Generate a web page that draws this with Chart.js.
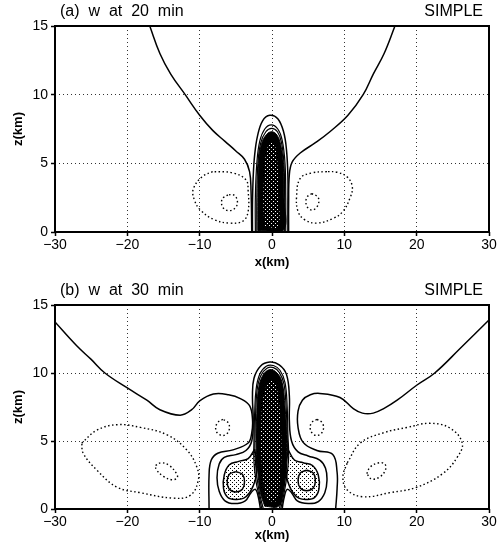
<!DOCTYPE html>
<html lang="en">
<head>
<meta charset="UTF-8">
<title>w at 20 and 30 min</title>
<script src="https://cdn.jsdelivr.net/npm/chart.js"></script>
<style>
  body { margin: 0; background: #fff; }
  canvas { display: block; }
</style>
</head>
<body>
<canvas id="chartA" width="499" height="270"></canvas>
<canvas id="chartB" width="499" height="273"></canvas>

<script>
// axis ticks (km)
const xTicks = [-30, -20, -10, 0, 10, 20, 30];
const zTicks = [0, 5, 10, 15];

// ---- panel (a): w at 20 min, contours as [x km, z km] ----
const aZeroL = [[-16.9,15],[-15.5,13],[-14,11.5],[-12,10],[-10,8.5],[-8.2,7.4],[-6.5,6.6],[-5,5.9],[-3.8,5.3],[-3.1,4.4],[-2.9,3],[-2.8,0]];
const aZeroR = [[17,15],[15.5,13],[14,11.5],[12.6,10],[10.5,8.5],[8,7.3],[6,6.5],[3.9,5.75],[2.8,5.1],[2.4,4.2],[2.3,2],[2.3,0]];
const aNegL  = [[-8.2,4.4],[-9.7,4.0],[-10.9,3.1],[-10.7,2.3],[-9.9,1.6],[-8,0.9],[-5.8,0.65],[-4.0,0.8],[-3.3,1.5],[-3.3,3],[-3.6,3.8],[-5.4,4.3],[-8.2,4.4]];
const aNegLi = [[-6.1,2.7],[-6.9,2.4],[-6.8,1.8],[-5.9,1.55],[-5.0,1.8],[-4.8,2.3],[-5.3,2.7],[-6.1,2.7]];
const aNegR  = [[7.6,4.4],[5.5,4.3],[3.9,3.9],[3.4,2.6],[3.6,1.5],[4.5,0.9],[6.2,0.65],[8.5,1.0],[9.8,1.5],[10.8,2.5],[11.1,3.3],[10.4,4.0],[9,4.35],[7.6,4.4]];
const aNegRi = [[5.5,2.8],[4.8,2.5],[4.8,1.9],[5.5,1.6],[6.3,1.9],[6.4,2.5],[5.5,2.8]];
const aCore1 = [[-2.7,0],[-2.7,2],[-2.6,4],[-2.4,5.6],[-2.0,7.0],[-1.3,8.1],[-0.3,8.5],[0.8,8.25],[1.6,7.3],[2.0,6.0],[2.2,4.0],[2.2,2.0],[2.2,0]];
const aCore2 = [[-2.3,0],[-2.3,2.5],[-2.1,5],[-1.7,6.6],[-1.0,7.5],[-0.1,7.8],[0.8,7.5],[1.4,6.7],[1.8,5],[1.9,2.5],[1.9,0]];
const aCore2b = [[-2.1,0],[-2.1,2.5],[-1.95,5],[-1.55,6.5],[-0.85,7.3],[-0.05,7.55],[0.75,7.3],[1.3,6.55],[1.65,5],[1.75,2.5],[1.75,0]];
const aCore3 = [[-1.95,0.1],[-1.95,2.5],[-1.85,5],[-1.45,6.4],[-0.75,7.1],[0,7.3],[0.7,7.05],[1.2,6.35],[1.55,5],[1.65,2.5],[1.55,0.1],[-1.95,0.1]];
const aCore4 = [[-1.0,0.4],[-1.2,2],[-1.1,4],[-0.9,5.5],[-0.4,6.4],[0.1,6.55],[0.5,6.1],[0.8,4.7],[0.9,2.5],[0.8,0.4],[-1.0,0.4]];

// ---- panel (b): w at 30 min ----
const bZeroL = [[-30,13.75],[-27,12.0],[-25,11],[-23.1,10],[-20,8.9],[-17.3,8.0],[-15.5,7.3],[-12.7,6.9],[-11.1,7.3],[-10,7.95],[-8.1,8.45],[-6,8.4],[-4.3,8.1],[-3.1,7.6],[-2.7,6.6],[-2.8,5.6],[-3.3,4.85],[-5.4,4.35],[-7.5,4.1],[-8.4,3.6],[-8.7,2.5],[-8.7,0]];
const bZeroR = [[8.8,0],[9.0,1.5],[9.0,2.7],[8.4,4.0],[6.2,4.3],[4.3,4.9],[3.6,6],[3.6,7.2],[4.2,8.0],[5.3,8.4],[6.6,8.5],[9.4,8.2],[11.2,7.4],[12.5,7.05],[14,7.05],[15.5,7.4],[17.3,8.0],[20,9.1],[22.5,10],[26,11.8],[30,13.9]];
const bNegL  = [[-26.3,4.85],[-24.2,5.8],[-21.4,6.2],[-18.2,6.0],[-14.5,5.45],[-11.8,4.35],[-10.4,3.1],[-10.2,2.1],[-11.3,1.0],[-13.7,0.8],[-18.2,1.2],[-21.4,1.6],[-24.2,2.85],[-26.1,4.1],[-26.3,4.85]];
const bNegLi = [[-16.1,3.2],[-15.3,3.4],[-14.2,3.2],[-13.2,2.6],[-13.1,2.3],[-13.8,2.15],[-15.0,2.4],[-16.0,2.9],[-16.1,3.2]];
const bNegR  = [[10.4,3.4],[12.2,4.85],[15.4,5.6],[18.7,6.0],[21.8,6.3],[24.6,5.95],[26.3,4.85],[25.6,3.8],[23.6,2.6],[20.0,1.6],[16.3,1.2],[12.6,0.9],[10.4,1.4],[9.8,2.35],[10.4,3.4]];
const bNegRi = [[13.1,2.6],[13.6,3.1],[14.8,3.4],[15.6,3.3],[15.7,2.9],[15.0,2.4],[13.8,2.2],[13.1,2.6]];
const bNegSL = [[-6.8,6.6],[-7.6,6.3],[-7.7,5.7],[-6.8,5.4],[-6.0,5.7],[-6.0,6.3],[-6.8,6.6]];
const bNegSR = [[6.2,6.6],[5.4,6.3],[5.4,5.7],[6.2,5.4],[7.0,5.7],[7.0,6.3],[6.2,6.6]];
const bCore1 = [[-1.6,0],[-1.9,0.9],[-2.3,1.45],[-2.9,1.2],[-3.7,0.6],[-5.2,0.4],[-6.5,0.6],[-7.3,1.3],[-7.6,2.3],[-7.3,3.3],[-6.6,3.8],[-5.0,4.0],[-3.6,4.3],[-2.8,5.0],[-2.6,6.5],[-2.7,8.3],[-2.5,9.6],[-1.6,10.5],[-0.3,10.8],[1.0,10.6],[2.0,9.9],[2.4,8.3],[2.4,6.5],[2.7,5.0],[3.6,4.2],[5.0,3.9],[6.6,3.6],[7.4,3.0],[7.6,2.1],[7.3,1.2],[6.4,0.55],[5.0,0.4],[3.5,0.6],[2.7,1.2],[2.1,1.45],[1.7,0.9],[1.4,0]];
const bBlobL = [[-2.4,4.4],[-3.3,3.7],[-4.6,3.5],[-5.9,3.25],[-6.6,2.5],[-6.7,1.5],[-6.1,0.85],[-5.0,0.7],[-3.9,0.8],[-3.1,1.2],[-2.6,1.7],[-2.2,2.4],[-2.1,3.4],[-2.4,4.4]];
const bBlobR = [[2.3,4.3],[3.1,3.6],[4.3,3.4],[5.6,3.2],[6.4,2.5],[6.5,1.5],[5.9,0.85],[4.8,0.7],[3.7,0.8],[2.9,1.2],[2.4,1.7],[2.0,2.4],[1.9,3.4],[2.3,4.3]];
const bRingL = [[-5.0,2.75],[-5.9,2.55],[-6.2,2.0],[-5.9,1.45],[-5.0,1.25],[-4.1,1.45],[-3.8,2.0],[-4.1,2.55],[-5.0,2.75]];
const bRingR = [[4.8,2.85],[3.9,2.65],[3.6,2.1],[3.9,1.55],[4.8,1.35],[5.7,1.55],[6.0,2.1],[5.7,2.65],[4.8,2.85]];
const bCore2 = [[-1.4,0],[-1.8,1.0],[-2.2,2],[-2.5,3.5],[-2.5,5],[-2.4,7],[-2.2,8.8],[-1.7,9.9],[-0.8,10.5],[0.2,10.55],[1.1,10.2],[1.8,9.3],[2.1,7.5],[2.2,5.5],[2.3,3.8],[2.0,2.2],[1.6,1.0],[1.2,0]];
const bCore2b = [[-1.2,0],[-1.7,1.1],[-2.1,2.4],[-2.35,4],[-2.35,5.5],[-2.25,7.2],[-2.05,8.8],[-1.55,9.8],[-0.7,10.35],[0.2,10.4],[1.0,10.05],[1.65,9.2],[1.95,7.5],[2.1,5.5],[2.1,3.8],[1.85,2.3],[1.5,1.1],[1.0,0]];
const bCore3 = [[-1.0,0.2],[-1.6,1.2],[-2.0,3],[-2.2,5],[-2.1,7],[-1.9,8.7],[-1.3,9.8],[-0.3,10.25],[0.7,10.0],[1.4,9.3],[1.8,7.5],[2.0,5.5],[1.9,3],[1.5,1.2],[0.9,0.2],[-1.0,0.2]];
const bCore4 = [[-0.7,0.6],[-1.2,2],[-1.5,4],[-1.5,6],[-1.3,7.8],[-0.8,9.0],[-0.2,9.5],[0.4,9.3],[0.9,8.2],[1.2,6.3],[1.3,4],[1.1,2],[0.6,0.6],[-0.7,0.6]];

const FONT = "'Liberation Sans', Arial, sans-serif";

function dotPattern(bg, dot, size, dots) {
  const c = document.createElement('canvas');
  c.width = c.height = size;
  const g = c.getContext('2d');
  g.fillStyle = bg;
  g.fillRect(0, 0, size, size);
  g.fillStyle = dot;
  dots.forEach(d => g.fillRect(d[0], d[1], 1, 1));
  return g.createPattern(c, 'repeat');
}
const stipple = dotPattern('#fff', '#000', 4, [[0, 0], [2, 2]]);
const coreDots = dotPattern('#000', '#fff', 4, [[1, 1], [3, 3]]);

// line styles
function solid(pts, w) { return { pts, dash: [], width: w || 1.5 }; }
function dotted(pts) { return { pts, dash: [1.5, 2.5], width: 1.4 }; }
function filled(pts, fillStyle, width) { return { pts, dash: [], width, fill: fillStyle }; }

function toDatasets(list) {
  return list.map((c, i) => ({
    data: c.pts.map(p => ({ x: p[0], y: p[1] })),
    showLine: true,
    borderColor: '#000',
    borderWidth: c.width,
    borderDash: c.dash,
    pointRadius: 0,
    tension: 0.4,
    fill: c.fill ? 'shape' : false,
    backgroundColor: c.fill || 'transparent',
    order: list.length - i   // later entries drawn on top
  }));
}

function panelPlugin(title) {
  return {
    id: 'panel',
    afterDatasetsDraw(chart) {
      const { ctx, chartArea: a } = chart;
      ctx.save();
      ctx.strokeStyle = '#000';
      ctx.lineWidth = 2;
      ctx.strokeRect(a.left, a.top, a.right - a.left, a.bottom - a.top);
      ctx.restore();
    },
    afterDraw(chart) {
      const { ctx, chartArea: a } = chart;
      ctx.save();
      ctx.fillStyle = '#000';
      ctx.font = '16px ' + FONT;
      ctx.textBaseline = 'bottom';
      ctx.textAlign = 'left';
      ctx.fillText(title, a.left + 5, a.top - 6);
      ctx.textAlign = 'right';
      ctx.fillText('SIMPLE', a.right - 6, a.top - 6);
      ctx.restore();
    }
  };
}

function makeChart(id, list, title, padTop, xAxisH) {
  return new Chart(document.getElementById(id), {
    type: 'scatter',
    data: { datasets: toDatasets(list) },
    options: {
      responsive: false,
      animation: false,
      layout: { padding: { top: padTop, right: 10, left: 0, bottom: 0 } },
      plugins: { legend: { display: false }, tooltip: { enabled: false } },
      scales: {
        x: {
          min: -30, max: 30,
          afterBuildTicks: s => { s.ticks = xTicks.map(v => ({ value: v })); },
          afterFit: s => { s.height = xAxisH; },
          ticks: {
            color: '#000', padding: 1, maxRotation: 0,
            font: { family: FONT, size: 14 },
            callback: v => (v < 0 ? '\u2212' + Math.abs(v) : String(v))
          },
          grid: { color: '#333', lineWidth: 1, tickLength: 4, tickColor: '#000', tickWidth: 1.5 },
          border: { display: false, dash: [1, 3] },
          title: { display: true, text: 'x(km)', color: '#000', padding: { top: 0, bottom: 0 },
                   font: { family: FONT, size: 13, weight: 'bold' } }
        },
        y: {
          min: 0, max: 15,
          afterBuildTicks: s => { s.ticks = zTicks.map(v => ({ value: v })); },
          afterFit: s => { s.width = 55; },
          ticks: { color: '#000', padding: 3, font: { family: FONT, size: 14 } },
          grid: { color: '#333', lineWidth: 1, tickLength: 4, tickColor: '#000', tickWidth: 1.5 },
          border: { display: false, dash: [1, 3] },
          title: { display: true, text: 'z(km)', color: '#000', padding: { top: 11, bottom: 0 },
                   font: { family: FONT, size: 13, weight: 'bold' } }
        }
      }
    },
    plugins: [panelPlugin(title)]
  });
}

makeChart('chartA', [
  solid(aZeroL), solid(aZeroR),
  dotted(aNegL), dotted(aNegLi), dotted(aNegR), dotted(aNegRi),
  solid(aCore1), solid(aCore2, 1.2), solid(aCore2b, 1.2),
  filled(aCore3, '#000', 1),
  filled(aCore4, coreDots, 0)
], '(a)  w  at  20  min', 26, 38);

makeChart('chartB', [
  solid(bZeroL), solid(bZeroR),
  dotted(bNegL), dotted(bNegLi), dotted(bNegR), dotted(bNegRi), dotted(bNegSL), dotted(bNegSR),
  solid(bCore1),
  filled(bBlobL, stipple, 1.5), filled(bBlobR, stipple, 1.5),
  filled(bRingL, stipple, 1.5), filled(bRingR, stipple, 1.5),
  solid(bCore2, 1.2), solid(bCore2b, 1.2),
  filled(bCore3, '#000', 1),
  filled(bCore4, coreDots, 0)
], '(b)  w  at  30  min', 35, 34);
</script>
</body>
</html>
